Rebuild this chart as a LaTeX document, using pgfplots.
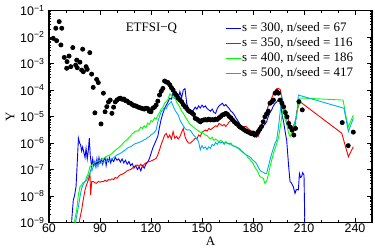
\documentclass[border=0pt]{standalone}
\usepackage{pgfplots}
\pgfplotsset{compat=1.18}
\usepackage{pgfplotstable}
\usepackage{fontspec}
\setmainfont{Liberation Serif}
\newfontfamily\sansf{Liberation Sans}

% log10 of Y
\pgfplotstableread{
x y
62.5 -2.05
64 -1.67
64.5 -2.14
66 -1.42
67 -2.30
67.5 -1.67
69 -2.77
70.4 -3.18
70.6 -2.93
71.8 -2.72
72.8 -3.12
74 -2.40
75.7 -3.06
76.3 -2.87
76.6 -3.16
78.2 -2.95
79.2 -3.25
79.8 -2.46
80.2 -3.31
81.8 -3.12
82.5 -3.22
84 -2.59
85.1 -3.40
86 -3.90
87 -4.86
88 -3.60
89 -3.72
90.6 -5.28
92 -4.12
93 -4.82
94 -4.63
95 -4.45
96 -4.38
97 -4.88
98 -4.65
99 -4.45
100 -4.38
101 -4.33
102 -4.31
103 -4.35
104 -4.34
105 -4.40
106 -4.42
107 -4.48
108 -4.50
109 -4.55
110 -4.59
111 -4.60
112 -4.63
113 -4.66
114 -4.68
115 -4.70
116 -4.72
117 -4.69
118 -4.70
119 -4.80
120 -4.82
121 -4.69
122 -4.65
123 -4.57
124 -4.42
125 -4.19
126 -4.05
127 -3.94
128 -3.66
129 -3.70
130 -3.72
131 -3.80
132 -3.91
133 -4.00
134 -4.12
135 -4.20
136 -4.31
137 -4.38
138 -4.44
139 -4.55
140 -4.63
141 -4.70
142 -4.78
143 -4.82
144 -4.86
145 -4.92
146 -5.07
147 -5.10
148 -5.15
149 -5.20
150 -5.15
151 -5.13
152 -5.12
153 -5.13
154 -5.10
155 -5.13
156 -5.12
157 -5.13
158 -5.10
159 -5.11
160 -5.05
161 -5.00
162 -4.94
163 -4.92
164 -4.88
165 -4.92
166 -5.00
167 -5.05
168 -5.13
169 -5.20
170 -5.26
171 -5.30
172 -5.38
173 -5.42
174 -5.46
175 -5.51
176 -5.55
177 -5.58
178 -5.61
179 -5.65
180 -5.62
181 -5.70
182 -5.65
183 -5.57
184 -5.48
185 -5.38
186 -5.20
187 -5.01
188 -4.90
189 -4.80
190 -4.50
191 -4.45
192 -4.38
193 -4.12
194 -4.06
195 -4.12
196 -4.38
197 -4.50
198 -4.63
199 -4.85
200 -5.01
201 -5.26
202 -5.40
203 -5.51
204 -5.70
205 -5.45
207 -4.44
209 -4.75
232.5 -5.23
236 -6.10
239 -5.59
}\obs

\pgfplotstableread{
x y
72.8 -9.5
73.5 -8.8
74.3 -8.15
75 -8.0
75.9 -7.65
76.7 -6.64
77.3 -5.82
78 -6.0
78.6 -6.07
79.2 -6.3
79.8 -6.15
80.6 -6.39
81.2 -6.55
81.8 -6.2
82.5 -6.6
83.1 -6.3
83.7 -5.82
84.3 -6.5
85.1 -6.89
85.7 -6.6
86.3 -6.85
87 -6.7
87.6 -6.9
88.2 -6.6
88.8 -6.85
89.4 -6.55
90 -6.75
91 -6.6
91.6 -6.8
92.2 -6.65
93 -6.55
93.6 -6.85
94.2 -6.6
95 -6.7
95.6 -6.55
96.3 -6.75
97 -6.6
98 -6.7
99 -6.55
100 -6.65
101 -6.6
102 -6.72
103 -6.6
104 -6.75
105 -6.65
106 -6.8
107 -6.7
108 -6.85
109 -6.78
110 -6.95
111 -6.85
112 -7.0
113 -6.9
114 -7.05
115 -6.85
116 -6.95
117 -6.8
118 -6.72
119 -6.6
120 -6.4
121 -6.2
122 -6.05
123 -5.9
124 -5.75
125 -5.4
126 -5.1
127 -4.88
128 -4.7
129 -4.57
130 -4.45
131 -4.31
132 -4.35
133 -4.12
134 -4.3
135 -4.15
136 -4.35
137 -4.06
138 -4.3
139 -4.0
140 -3.95
141 -4.5
142 -4.7
143 -4.75
144 -4.82
145 -4.75
146 -4.65
147 -4.72
148 -4.6
149 -4.68
150 -4.57
151 -4.65
152 -4.6
153 -4.7
154 -4.75
155 -4.8
156 -4.72
157 -4.85
158 -4.88
159 -4.7
160 -4.6
161 -4.55
162 -4.5
163 -4.6
164 -4.55
165 -4.63
166 -4.7
167 -4.8
168 -4.85
169 -4.94
170 -5.05
171 -5.15
172 -5.26
173 -5.35
174 -5.4
175 -5.45
176 -5.51
177 -5.55
178 -5.6
179 -5.65
180 -5.68
181 -5.72
182 -5.78
183 -5.7
184 -5.6
185 -5.45
186 -5.35
187 -5.3
188 -5.2
189 -5.0
190 -4.85
191 -4.75
192 -4.6
193 -4.5
194 -4.45
195 -4.35
196 -4.38
197 -4.9
198 -5.2
199 -5.6
199.8 -5.89
201 -6.9
201.8 -7.46
202.5 -7.5
203.7 -7.65
204.7 -7.90
205.5 -7.75
206.7 -7.77
207.3 -7.15
208 -7.3
208.6 -7.27
209.2 -7.12
210 -7.21
210.6 -9.5
}\sA

\pgfplotstableread{
x y
77 -9.5
78 -8.9
79.2 -8.53
80 -8.2
81.2 -7.77
82 -7.6
83.1 -7.40
84.1 -7.15
84.5 -7.96
85.1 -7.46
86 -7.45
87 -7.5
88 -7.52
89 -7.45
90 -7.48
91 -7.45
92 -7.46
93 -7.4
94 -7.45
95 -7.38
96 -7.40
97 -7.35
98 -7.38
99 -7.3
100 -7.33
101 -7.25
102 -7.2
103 -7.18
104 -7.15
105 -7.1
106 -7.05
107 -7.02
108 -7.0
109 -6.95
110 -6.9
111 -6.85
112 -6.83
113 -6.88
114 -6.8
115 -6.89
116 -6.8
117 -6.75
118 -6.72
119 -6.70
120 -6.68
121 -6.65
122 -6.62
123 -6.58
124 -6.45
125 -6.26
126 -6.05
127 -5.89
128 -5.7
129 -5.64
130 -5.8
131 -5.7
132 -5.85
133 -5.57
134 -5.82
135 -5.75
136 -5.85
137 -5.76
138 -5.6
139 -5.45
140 -5.76
141 -5.9
142 -6.0
143 -6.01
144 -5.95
145 -5.9
146 -5.82
147 -5.85
148 -5.7
149 -5.75
150 -5.6
151 -5.55
152 -5.51
153 -5.55
154 -5.45
155 -5.5
156 -5.45
157 -5.4
158 -5.35
159 -5.38
160 -5.26
161 -5.3
162 -5.35
163 -5.3
164 -5.38
165 -5.3
166 -5.2
167 -5.15
168 -5.13
169 -5.25
170 -5.32
171 -5.4
172 -5.45
173 -5.45
174 -5.4
175 -5.38
176 -5.38
177 -5.45
178 -5.5
179 -5.55
180 -5.57
181 -5.65
182 -5.7
183 -5.76
184 -5.6
185 -5.4
186 -5.2
187 -5.0
188 -4.8
189 -4.6
190 -4.45
191 -4.3
192 -4.15
193 -4.05
194 -3.95
195 -3.94
196 -3.98
197 -4.3
198 -4.6
199.8 -4.88
201.8 -5.38
203.7 -5.63
204.7 -5.38
205.7 -4.82
207.6 -4.44
232.2 -5.63
236.1 -6.52
239 -6.14
}\sB

\pgfplotstableread{
x y
74 -9.5
74.8 -9.0
76.3 -8.53
77.2 -8.0
78.2 -7.65
79 -7.6
80 -7.5
81.2 -7.46
82 -7.3
83.1 -7.15
84.1 -6.89
85 -6.85
86 -6.77
87 -6.75
88 -6.7
89 -6.68
90 -6.64
91 -6.6
92 -6.58
93 -6.55
94 -6.5
95 -6.47
96 -6.45
97 -6.4
98 -6.33
99 -6.28
100 -6.22
101 -6.18
102 -6.12
103 -6.05
104 -5.98
105 -5.92
106 -5.87
107 -5.8
108 -5.73
109 -5.65
110 -5.6
111 -5.55
112 -5.55
113 -5.5
114 -5.4
115 -5.45
116 -5.35
117 -5.42
118 -5.25
119 -5.3
120 -5.15
121 -5.2
122 -5.05
123 -5.1
124 -4.95
125 -4.85
126 -4.72
127 -4.65
128 -4.5
129 -4.44
130 -4.35
131 -4.15
132 -4.19
133 -4.31
134 -4.25
135 -4.45
136 -4.55
137 -4.65
138 -4.8
139 -4.88
140 -5.0
141 -5.1
142 -5.2
143 -5.3
144 -5.35
145 -5.4
146 -5.45
147 -5.5
148 -5.55
149 -5.6
150 -5.58
151 -5.65
152 -5.7
153 -5.72
154 -5.8
155 -5.85
156 -5.78
157 -5.9
158 -5.85
159 -5.9
160 -5.95
161 -5.9
162 -5.95
163 -6.0
164 -5.95
165 -6.01
166 -6.05
167 -6.0
168 -6.1
169 -6.12
170 -6.14
171 -6.2
172 -6.25
173 -6.3
174 -6.35
175 -6.4
176 -6.45
177 -6.55
178 -6.6
179 -6.7
180 -6.77
181 -6.9
182 -7.0
183 -7.1
184 -7.27
185 -7.3
186 -7.33
187 -7.52
188 -7.45
189 -7.2
190 -6.9
191 -6.64
192 -6.4
193 -6.2
194 -6.0
195 -5.8
196 -5.4
197 -5.0
197.8 -4.63
198.8 -5.1
199.8 -5.26
200.8 -5.6
201.8 -5.76
202.8 -5.6
203.7 -5.51
204.7 -5.26
206 -4.8
207.6 -4.3
233 -4.38
235 -5.1
236.1 -5.38
239 -4.95
}\sC

\pgfplotstableread{
x y
75 -9.5
75.6 -9.0
77.3 -8.40
78.3 -8.0
79.2 -7.71
80.2 -7.55
81.2 -7.45
82.2 -7.40
83.1 -7.25
84.1 -7.15
84.6 -7.0
85.2 -7.05
86 -6.89
87 -6.85
88 -6.82
89 -6.8
90 -6.77
91 -6.75
92 -6.72
93 -6.7
94 -6.68
95 -6.66
96 -6.64
97 -6.6
98 -6.55
99 -6.5
100 -6.45
101 -6.42
102 -6.39
103 -6.35
104 -6.3
105 -6.25
106 -6.2
107 -6.16
108 -6.14
109 -6.1
110 -6.05
111 -6.02
112 -6.0
113 -5.98
114 -5.95
115 -5.92
116 -5.88
117 -5.85
118 -5.8
119 -5.76
120 -5.7
121 -5.65
122 -5.6
123 -5.51
124 -5.2
125 -5.0
126 -4.82
127 -4.75
128 -4.65
129 -4.7
130 -4.57
131 -4.5
132 -4.44
133 -4.6
134 -4.75
135 -4.85
136 -4.94
137 -5.13
138 -5.25
139 -5.35
140 -5.45
141 -5.51
142 -5.5
143 -5.51
144 -5.6
145 -5.7
146 -5.76
147 -5.85
148 -5.95
149 -6.26
150 -6.1
151 -6.2
152 -6.15
153 -6.25
154 -6.14
155 -6.2
156 -6.05
157 -6.1
158 -5.98
159 -6.05
160 -5.95
161 -6.0
162 -5.95
163 -6.05
164 -5.98
165 -6.02
166 -6.01
167 -6.05
168 -6.1
169 -6.12
170 -6.15
171 -6.18
172 -6.2
173 -6.28
174 -6.33
175 -6.4
176 -6.45
177 -6.48
178 -6.52
179 -6.58
180 -6.65
181 -6.7
182 -6.77
183 -6.9
184 -7.02
185 -7.08
186 -7.1
187 -7.15
188 -7.15
189 -6.9
190 -6.64
191 -6.4
192 -6.2
193 -6.0
193.9 -5.89
195 -5.4
196 -4.8
196.9 -4.25
197.8 -4.5
198.8 -4.88
200.8 -5.38
202.8 -5.57
204 -5.3
205.7 -5.01
206.7 -4.19
233.5 -4.69
236.1 -5.57
239 -5.07
}\sD

\begin{document}
\fontsize{13}{15}\selectfont
\begin{tikzpicture}
\begin{axis}[
  scale only axis,
  width=323bp, height=212bp,
  xmin=60, xmax=250,
  ymode=log, ymin=1e-9, ymax=1e-1,
  xtick={60,90,...,240},
  minor x tick num=2,
  ytick={1e-9,1e-8,1e-7,1e-6,1e-5,1e-4,1e-3,1e-2,1e-1},
  yticklabels={10\textsuperscript{−9},10\textsuperscript{−8},10\textsuperscript{−7},10\textsuperscript{−6},10\textsuperscript{−5},10\textsuperscript{−4},10\textsuperscript{−3},10\textsuperscript{−2},10\textsuperscript{−1}},
  /pgf/number format/assume math mode=true,
  tick label style={font=\fontsize{12.5}{14}\sansf},
  xticklabel style={inner sep=1.5bp},
  major tick length=5bp, minor tick length=2.5bp,
  tick style={black, line width=0.8bp},
  axis line style={line width=1.2bp},
  xlabel={A}, ylabel={Y},
  xlabel style={at={(axis description cs:0.5,-0.0875)}, anchor=center, inner sep=0pt, font=\fontsize{13}{15}\selectfont},
  ylabel style={at={(axis description cs:-0.1207,0.5)}, anchor=center, inner sep=0pt, font=\fontsize{13}{15}\selectfont},
  legend style={at={(axis description cs:0.545,0.95)}, anchor=north west, draw=none, fill=none,
    inner sep=0pt, row sep=0pt, font=\fontsize{13}{14}\selectfont,
    nodes={inner sep=1bp, text height=9.5bp, text depth=3.5bp}},
  legend cell align=left,
  legend image code/.code={\draw[#1] (0bp,0bp) -- (15bp,0bp);},
  every axis plot/.append style={line width=0.9bp},
]
\addplot[only marks, mark=*, mark size=2.0bp, black, forget plot] table[x=x, y expr={10^(\thisrow{y})}] {\obs};
\addplot[blue] table[x=x, y expr={10^(\thisrow{y})}] {\sA};
\addlegendentry{s = 300, n/seed = 67}
\addplot[red] table[x=x, y expr={10^(\thisrow{y})}] {\sB};
\addlegendentry{s = 350, n/seed = 116}
\addplot[green] table[x=x, y expr={10^(\thisrow{y})}] {\sC};
\addlegendentry{s = 400, n/seed = 186}
\addplot[cyan] table[x=x, y expr={10^(\thisrow{y})}] {\sD};
\addlegendentry{s = 500, n/seed = 417}
\node[anchor=center] at (axis description cs:0.317,0.917) {ETFSI−Q};
\end{axis}
\pgfresetboundingbox
\path ([shift={(-49bp,-25.5bp)}]current axis.south west) rectangle ([shift={(3bp,10.5bp)}]current axis.north east);
\end{tikzpicture}
\end{document}
